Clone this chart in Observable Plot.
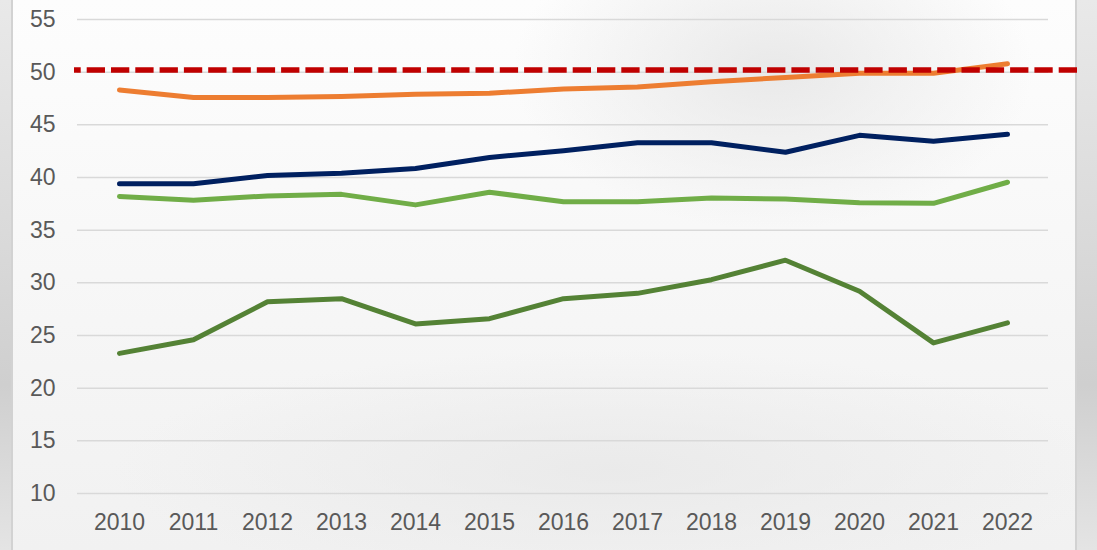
<!DOCTYPE html>
<html>
<head>
<meta charset="utf-8">
<script src="https://cdn.jsdelivr.net/npm/d3@7"></script>
<script src="https://cdn.jsdelivr.net/npm/@observablehq/plot@0.6"></script>
<style>
  html, body { margin: 0; padding: 0; }
  body {
    width: 1097px; height: 550px; overflow: hidden; position: relative;
    background: linear-gradient(to bottom, #e9e9e9 0%, #d9d9d9 45%, #cfcfcf 70%, #e4e4e4 100%);
    font-family: "Liberation Sans", Arial, sans-serif;
  }
  #frame {
    position: absolute; left: 11px; top: 0; width: 1066px; height: 550px;
    border-left: 2px solid #d2d2d2; border-right: 2px solid #d2d2d2;
    background:
      radial-gradient(ellipse 260px 160px at 760px 70px, rgba(225,225,225,0.7), rgba(255,255,255,0) 100%),
      radial-gradient(ellipse 500px 120px at 600px 470px, rgba(232,232,232,0.8), rgba(255,255,255,0) 100%),
      linear-gradient(to bottom, #fdfdfd 0%, #f7f7f7 50%, #f1f1f1 100%);
    box-sizing: border-box;
  }
  #chart { position: absolute; left: 0; top: 0; }
</style>
</head>
<body>
<div id="frame"></div>
<div id="chart"></div>
<script>
const years = ["2010","2011","2012","2013","2014","2015","2016","2017","2018","2019","2020","2021","2022"];
const orangeSeries = [48.3, 47.6, 47.6, 47.7, 47.9, 48.0, 48.4, 48.6, 49.1, 49.5, 49.9, 49.9, 50.8];
const navySeries   = [39.4, 39.4, 40.2, 40.4, 40.85, 41.9, 42.55, 43.3, 43.3, 42.4, 44.0, 43.45, 44.1];
const lightGreenSeries = [38.2, 37.85, 38.25, 38.4, 37.4, 38.6, 37.7, 37.7, 38.05, 37.95, 37.6, 37.55, 39.55];
const darkGreenSeries  = [23.3, 24.6, 28.2, 28.5, 26.1, 26.6, 28.5, 29.0, 30.3, 32.15, 29.2, 24.3, 26.2];
const threshold = [50.2];
const yTicks = [10, 15, 20, 25, 30, 35, 40, 45, 50, 55];

const series = [
  {name: "orange", values: orangeSeries, color: "#ED7D31"},
  {name: "navy", values: navySeries, color: "#002060"},
  {name: "lightgreen", values: lightGreenSeries, color: "#70AD47"},
  {name: "darkgreen", values: darkGreenSeries, color: "#548235"}
];
const rows = series.flatMap(s => s.values.map((v, i) => ({series: s.name, year: years[i], value: v, color: s.color})));

const chart = Plot.plot({
  width: 1097,
  height: 550,
  marginLeft: 77,
  marginRight: 49,
  marginTop: 19,
  marginBottom: 57,
  style: {background: "transparent", fontFamily: "'Liberation Sans', Arial, sans-serif", fontSize: "23px", color: "#595959", overflow: "visible"},
  x: {type: "point", domain: years, padding: 0.5, label: null},
  y: {domain: [10, 55], ticks: yTicks, label: null},
  marks: [
    Plot.gridY(yTicks, {stroke: "#d9d9d9", strokeOpacity: 1, strokeWidth: 1.5}),
    Plot.axisY(yTicks, {tickSize: 0, tickPadding: 22, fontSize: 23, fill: "#595959", label: null}),
    Plot.axisX(years, {tickSize: 0, tickPadding: 20, fontSize: 23, fill: "#595959", label: null}),
    Plot.line(rows, {x: "year", y: "value", z: "series", stroke: "color", strokeWidth: 5, strokeLinecap: "round", strokeLinejoin: "round"}),
    Plot.ruleY(threshold, {stroke: "#C00000", strokeWidth: 5.5, strokeDasharray: "18.3,6", strokeDashoffset: 11.6, insetLeft: -3, insetRight: -30})
  ]
});
document.getElementById("chart").appendChild(chart);
</script>
</body>
</html>
